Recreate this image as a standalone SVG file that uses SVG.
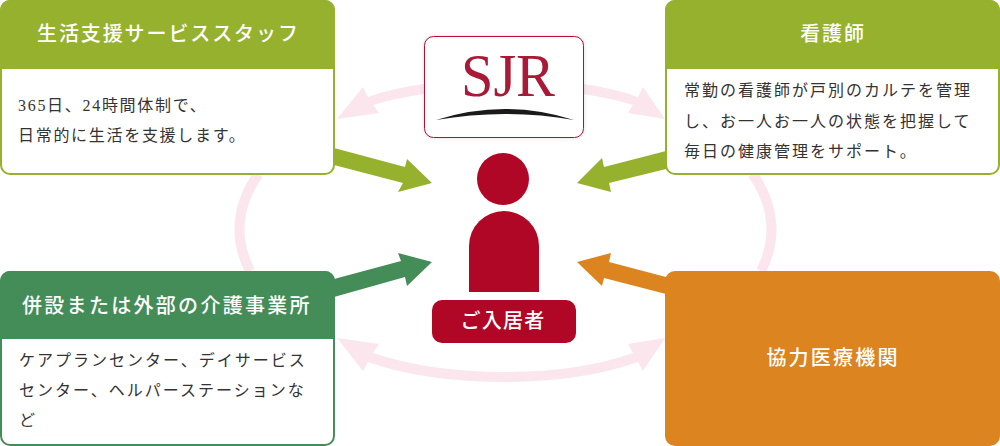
<svg xmlns="http://www.w3.org/2000/svg" width="1000" height="446" viewBox="0 0 1000 446">
<style>
text{font-family:"Liberation Serif","Noto Sans CJK JP",serif}
.h{fill:#fff;font-size:20px;letter-spacing:1.9px;font-weight:500}
.c{text-anchor:middle}
.b{fill:#333;font-size:16px;letter-spacing:1.7px}
.w{letter-spacing:2px}
.arc{fill:none;stroke:#fbe6ee;stroke-width:10}
.pink{fill:#fbe6ee}
.lime{fill:#95b12d}
.forest{fill:#448d58}
.orange{fill:#dc841f}
.red{fill:#b10727}
</style>
<defs>
<filter id="sh" x="-10%" y="-10%" width="120%" height="120%"><feDropShadow dx="0" dy="0" stdDeviation="2" flood-color="#000" flood-opacity=".12"/></filter>
</defs>
<g id="connectors">
<path class="arc" d="M258.500 174A264.500 149 0 0 0 250 271"/>
<path class="arc" d="M752.500 174A264.500 149 0 0 1 761 271"/>
<path class="pink" d="M337 119L363 87L368 97Q393 88 424 84V94Q396 98 373 105L379 113Z"/>
<path class="pink" d="M665 119L643 87L638 97Q613 88 583 84V94Q610 98 633 105L628 113Z"/>
<path class="pink" d="M337 338L379 344L373 353Q430 372 505 372Q580 372 633 353L628 344L665 338L643 371L638 362Q580 382 505 382Q425 382 368 362L363 371Z"/>
<path class="lime" d="M334 148L405 167L407 159L432 183L398 192L403 183L334 165Z"/>
<path class="forest" d="M334 279L401 261L398 253L432 262L407 286L405 277L334 297Z"/>
<path class="lime" d="M666 151L604 167L602 158L577 183L611 192L609 183L666 169Z"/>
<path class="orange" d="M666 277L609 262L611 253L577 262L602 286L604 278L666 294Z"/>
</g>
<g id="node-support">
<rect x="1" y="1" width="333" height="173" rx="9" fill="#fff" stroke="#95b12d" stroke-width="2"/>
<path class="lime" d="M0 69V10A10 10 0 0 1 10 0H325A10 10 0 0 1 335 10V69Z"/>
<text class="h" x="37" y="41">生活支援サービススタッフ</text>
<text class="b" x="18" y="111">365日、24時間体制で、</text>
<text class="b" x="18" y="141">日常的に生活を支援します。</text>
</g>
<g id="node-nurse">
<rect x="666" y="1" width="333" height="173" rx="9" fill="#fff" stroke="#95b12d" stroke-width="2"/>
<path class="lime" d="M665 69V10A10 10 0 0 1 675 0H990A10 10 0 0 1 1000 10V69Z"/>
<text class="h c" x="833" y="41">看護師</text>
<text class="b w" x="684" y="96">常勤の看護師が戸別のカルテを管理</text>
<text class="b w" x="684" y="127">し、お一人お一人の状態を把握して</text>
<text class="b w" x="684" y="157">毎日の健康管理をサポート。</text>
</g>
<g id="node-external">
<rect x="1" y="272" width="333" height="173" rx="9" fill="#fff" stroke="#448d58" stroke-width="2"/>
<path class="forest" d="M0 339V281A10 10 0 0 1 10 271H325A10 10 0 0 1 335 281V339Z"/>
<text class="h" x="22" y="313" style="letter-spacing:2.3px">併設または外部の介護事業所</text>
<text class="b w" x="19" y="366">ケアプランセンター、デイサービス</text>
<text class="b w" x="19" y="396">センター、ヘルパーステーションな</text>
<text class="b w" x="19" y="426">ど</text>
</g>
<g id="node-medical">
<rect class="orange" x="665" y="271" width="335" height="175" rx="10"/>
<text class="h c" x="833" y="365" style="letter-spacing:2.2px">協力医療機関</text>
</g>
<g id="node-logo">
<rect x="424.500" y="36.500" width="159" height="101" rx="9" fill="#fff" stroke="#b80a30" filter="url(#sh)"/>
<text x="461" y="96" font-size="62" fill="#a81a35" textLength="94" lengthAdjust="spacingAndGlyphs">SJR</text>
<path fill="#1a1a1a" d="M436 120Q505 98 574 120Q505 108 436 120Z"/>
</g>
<g id="node-resident">
<circle class="red" cx="503" cy="179" r="26"/>
<path class="red" d="M469 292V246A35 35 0 0 1 539 246V292Z"/>
<rect class="red" x="432" y="300" width="144" height="43" rx="10"/>
<text class="h c" x="503" y="328" style="letter-spacing:1.2px">ご入居者</text>
</g>
</svg>
